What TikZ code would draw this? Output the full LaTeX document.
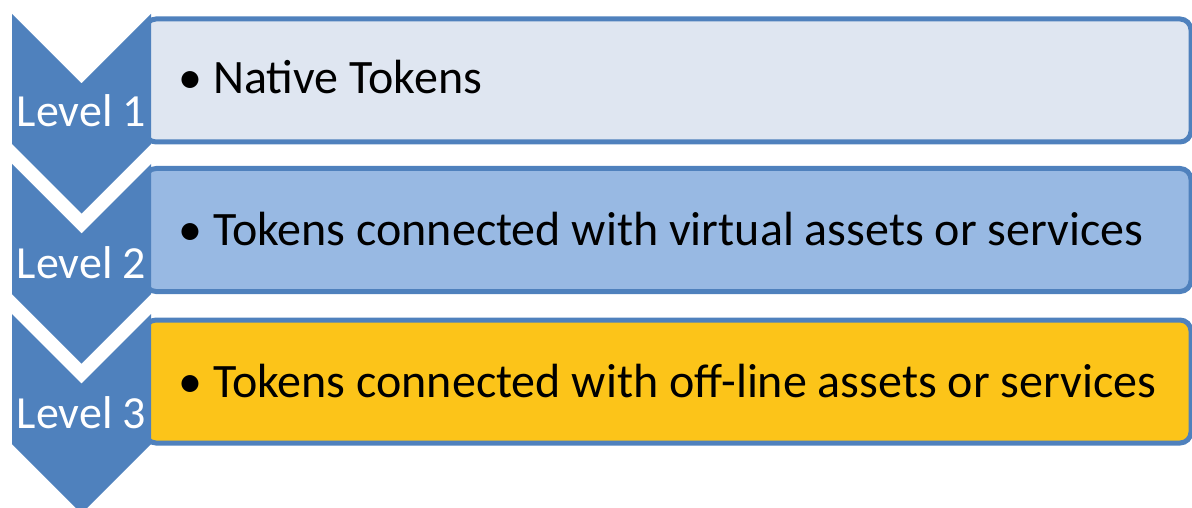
\documentclass[tikz,border=0pt]{standalone}
\usepackage{fontspec}
\setmainfont{Carlito}
\definecolor{chevblue}{HTML}{4F81BD}
\definecolor{fillone}{HTML}{DFE6F1}
\definecolor{filltwo}{HTML}{98B9E3}
\definecolor{fillthree}{HTML}{FCC419}
\tikzset{
  levelbox/.style={draw=chevblue, line width=5pt, rounded corners=11pt,
    minimum width=1046pt, minimum height=123pt, inner sep=0pt},
  chevron/.style={fill=chevblue},
  levellabel/.style={text=white, font=\fontsize{46}{46}\selectfont, anchor=base, inner sep=0pt},
  itemtext/.style={font=\fontsize{48}{48}\selectfont, anchor=base west, inner sep=0pt}
}
\newcommand{\chevronat}[1]{%
  \path[chevron] (12,#1) -- (81.5,#1+69.5) -- (151,#1) -- (151,#1+130)
    -- (81.5,#1+199.5) -- (12,#1+130) -- cycle;}
\begin{document}
\begin{tikzpicture}[x=1pt,y=-1pt]
        \useasboundingbox (0,0) rectangle (1192,508);

        \node[levelbox, fill=fillone] (box1) at (668,80.5) {};
        \node[levelbox, fill=filltwo] (box2) at (668,230) {};
        \node[levelbox, fill=fillthree] (box3) at (668,381.5) {};

        \chevronat{14}
        \chevronat{164}
        \chevronat{314}

        \node[levellabel] (lvl1) at (81.5,127) {Level 1};
        \node[levellabel] (lvl2) at (81.5,278) {Level 2};
        \node[levellabel] (lvl3) at (81.5,428) {Level 3};

        \node[itemtext] (item1) at (178,94) {•\hspace{11pt}Native Tokens};
        \node[itemtext] (item2) at (178,245) {•\hspace{11pt}Tokens connected with virtual assets or services};
        \node[itemtext] (item3) at (178,397) {•\hspace{11pt}Tokens connected with off-line assets or services};

    \end{tikzpicture}
\end{document}
